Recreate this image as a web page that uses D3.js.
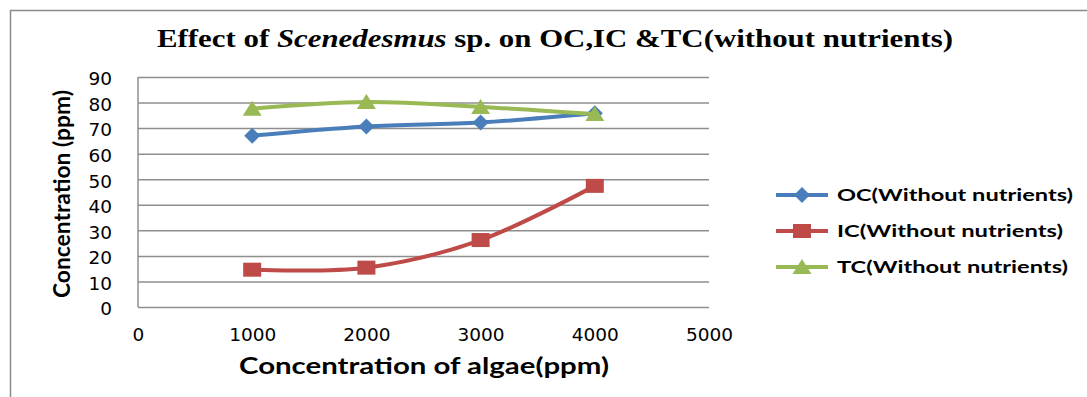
<!DOCTYPE html>
<html>
<head>
<meta charset="utf-8">
<script src="https://cdn.jsdelivr.net/npm/d3@7"></script>
<style>
  html, body { margin: 0; padding: 0; background: #fff; }
  svg { display: block; }
</style>
</head>
<body>
<div id="chart"></div>
<script>
'use strict';

// values
const algaeDoses = [1000, 2000, 3000, 4000];
const ocValues = [67, 70.6, 72.2, 75.8];
const icValues = [14.6, 15.4, 26.2, 47.4];
const tcValues = [77.6, 80.2, 78.3, 75.5];
const xTicks = [0, 1000, 2000, 3000, 4000, 5000];
const yTicks = [0, 10, 20, 30, 40, 50, 60, 70, 80, 90];
const seriesNames = ['OC(Without nutrients)', 'IC(Without nutrients)', 'TC(Without nutrients)'];

const palette = { oc: '#4a7ebb', ic: '#be4b48', tc: '#98b954', grid: '#8e8e8e', ink: '#000' };

const width = 1087, height = 397;
const margins = { left: 138, right: 378, top: 77, bottom: 90 };
const innerWidth = width - margins.left - margins.right;
const innerHeight = height - margins.top - margins.bottom;

let series = [
    { name: seriesNames[0], values: ocValues, colour: palette.oc, marker: 'diamond' },
    { name: seriesNames[1], values: icValues, colour: palette.ic, marker: 'square' },
    { name: seriesNames[2], values: tcValues, colour: palette.tc, marker: 'triangle' }
];

let svg = d3.select('#chart').append('svg')
    .attr('width', width)
    .attr('height', height);

// chart-area border, runs off the right and bottom like the reference crop
svg.append('path')
    .attr('d', `M10.5,${height}V10.5H${width}`)
    .attr('fill', 'none')
    .attr('stroke', '#8a8a8a')
    .attr('stroke-width', 1.5);

let scaleX = d3.scaleLinear().domain([0, 5000]).range([margins.left, margins.left + innerWidth]);
let scaleY = d3.scaleLinear().domain([0, 90]).range([margins.top + innerHeight, margins.top]);

// y axis with gridlines
let yAxis = d3.axisLeft(scaleY)
    .tickValues(yTicks)
    .tickFormat(d3.format('d'))
    .tickSize(-innerWidth)
    .tickPadding(26);

let yAxisGroup = svg.append('g')
    .attr('transform', `translate(${margins.left}, 0)`)
    .call(yAxis)
    .attr('fill', null)
    .attr('font-family', null)
    .attr('font-size', null);
yAxisGroup.select('.domain').remove();
yAxisGroup.selectAll('.tick line')
    .attr('stroke', palette.grid)
    .attr('stroke-width', 1.5);
yAxisGroup.selectAll('.tick text')
    .attr('dy', '0.42em')
    .style('font-family', '"DejaVu Sans", sans-serif')
    .style('font-size', '18.5px')
    .style('fill', palette.ink);

// left axis line
svg.append('line')
    .attr('x1', scaleX(0)).attr('x2', scaleX(0))
    .attr('y1', scaleY(90)).attr('y2', scaleY(0))
    .attr('stroke', palette.grid)
    .attr('stroke-width', 1.5);

// x axis
let xAxis = d3.axisBottom(scaleX)
    .tickValues(xTicks)
    .tickFormat(d3.format('d'))
    .tickSize(0)
    .tickPadding(21);

let xAxisGroup = svg.append('g')
    .attr('transform', `translate(0, ${margins.top + innerHeight})`)
    .call(xAxis)
    .attr('fill', null)
    .attr('font-family', null)
    .attr('font-size', null);
xAxisGroup.select('.domain').remove();
xAxisGroup.selectAll('.tick text')
    .style('font-family', '"DejaVu Sans", sans-serif')
    .style('font-size', '18.5px')
    .style('fill', palette.ink);

// series
let line = d3.line()
    .x((d, i) => scaleX(algaeDoses[i]))
    .y(d => scaleY(d))
    .curve(d3.curveCatmullRom.alpha(0.5));

function drawMarker(g, type, colour, cx, cy) {
    if (type === 'diamond') {
        g.append('path')
            .attr('d', `M${cx},${cy - 8}L${cx + 8},${cy}L${cx},${cy + 8}L${cx - 8},${cy}Z`)
            .attr('fill', colour);
    } else if (type === 'square') {
        g.append('rect')
            .attr('x', cx - 9).attr('y', cy - 7)
            .attr('width', 18).attr('height', 14)
            .attr('fill', colour);
    } else {
        g.append('path')
            .attr('d', `M${cx},${cy - 8}L${cx + 9.5},${cy + 7}L${cx - 9.5},${cy + 7}Z`)
            .attr('fill', colour);
    }
}

series.forEach(s => {
    svg.append('path')
        .datum(s.values)
        .attr('d', line)
        .attr('fill', 'none')
        .attr('stroke', s.colour)
        .attr('stroke-width', 4)
        .attr('stroke-linecap', 'round');

    let markers = svg.append('g');
    s.values.forEach((v, i) => drawMarker(markers, s.marker, s.colour, scaleX(algaeDoses[i]), scaleY(v)));
});

// title
let title = svg.append('text')
    .attr('x', 157)
    .attr('y', 47)
    .attr('textLength', 796)
    .attr('lengthAdjust', 'spacingAndGlyphs')
    .style('font-family', '"Liberation Serif", "Times New Roman", serif')
    .style('font-size', '25px')
    .style('font-weight', 'bold')
    .style('fill', palette.ink);
title.append('tspan').text('Effect of ');
title.append('tspan').style('font-style', 'italic').text('Scenedesmus');
title.append('tspan').text(' sp. on OC,IC &TC(without nutrients)');

// axis titles
svg.append('text')
    .attr('x', 239)
    .attr('y', 374)
    .attr('textLength', 370)
    .attr('lengthAdjust', 'spacingAndGlyphs')
    .style('font-family', 'Lato, "Open Sans", sans-serif')
    .style('font-size', '22px')
    .style('font-weight', 'bold')
    .style('fill', palette.ink)
    .text('Concentration of algae(ppm)');

svg.append('text')
    .attr('transform', 'translate(70, 298) rotate(-90)')
    .attr('textLength', 208)
    .attr('lengthAdjust', 'spacingAndGlyphs')
    .style('font-family', 'Lato, "Open Sans", sans-serif')
    .style('font-size', '22px')
    .style('font-weight', 'bold')
    .style('fill', palette.ink)
    .text('Concentration (ppm)');

// legend
let legendWidths = [236, 226, 231];
let legend = svg.append('g');
series.forEach((s, i) => {
    let cy = 195 + i * 36;
    legend.append('line')
        .attr('x1', 776).attr('x2', 828)
        .attr('y1', cy).attr('y2', cy)
        .attr('stroke', s.colour)
        .attr('stroke-width', 4);
    drawMarker(legend, s.marker, s.colour, 802, cy);
    legend.append('text')
        .attr('x', 837)
        .attr('y', cy + 6)
        .attr('textLength', legendWidths[i])
        .attr('lengthAdjust', 'spacingAndGlyphs')
        .style('font-family', 'Lato, "Open Sans", sans-serif')
        .style('font-size', '17.5px')
        .style('font-weight', 'bold')
        .style('fill', palette.ink)
        .text(s.name);
});
</script>
</body>
</html>
